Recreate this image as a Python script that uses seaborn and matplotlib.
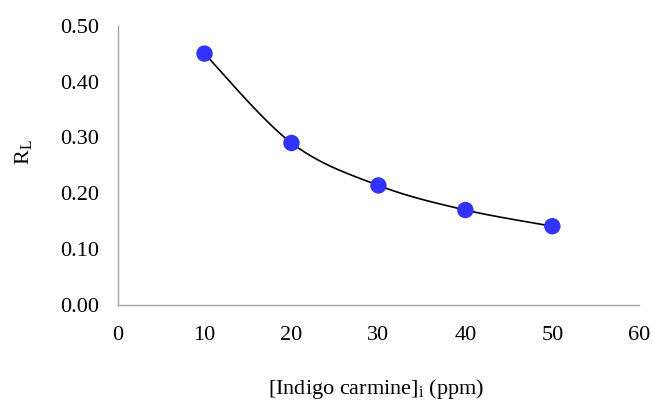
import numpy as np
import pandas as pd
import matplotlib
matplotlib.use("Agg")
import matplotlib.pyplot as plt
import seaborn as sns

# Separation factor R_L at each initial dye concentration
concentration = [10, 20, 30, 40, 50]
r_l = [0.450, 0.290, 0.214, 0.170, 0.141]

x_ticks = [0, 10, 20, 30, 40, 50, 60]
y_ticks = [0.00, 0.10, 0.20, 0.30, 0.40, 0.50]

sns.set_theme(style="white")
plt.rcParams["font.family"] = ["Liberation Serif", "DejaVu Serif"]
plt.rcParams["mathtext.fontset"] = "custom"
plt.rcParams["mathtext.rm"] = "Liberation Serif"
plt.rcParams["mathtext.it"] = "Liberation Serif"

W, H = 653, 401
fig = plt.figure(figsize=(W / 100, H / 100), dpi=100)
ax = fig.add_axes([0.180, 0.2394, 0.799, 0.6966])

xlim = (0, 60)
ylim = (0, 0.5)


def smooth_curve(xs, ys, n=40):
    """Cubic Bezier smoothing through the points (spreadsheet style)."""
    # work in display-like units so the smoothing is aspect aware
    sx = 521.6 / (xlim[1] - xlim[0])
    sy = 279.3 / (ylim[1] - ylim[0])
    P = np.column_stack([np.asarray(xs) * sx, np.asarray(ys) * sy])
    out = []
    m = len(P)
    for i in range(m - 1):
        p0 = P[i - 1] if i > 0 else P[i]
        p1, p2 = P[i], P[i + 1]
        p3 = P[i + 2] if i + 2 < m else P[i + 1]
        c1 = p1 + (p2 - p0) / 6.0
        c2 = p2 - (p3 - p1) / 6.0
        t = np.linspace(0, 1, n)[:, None]
        seg = ((1 - t) ** 3) * p1 + 3 * ((1 - t) ** 2) * t * c1 + 3 * (1 - t) * t ** 2 * c2 + t ** 3 * p2
        out.append(seg if i == 0 else seg[1:])
    C = np.vstack(out)
    return C[:, 0] / sx, C[:, 1] / sy


cx, cy = smooth_curve(concentration, r_l)
curve = pd.DataFrame({"x": cx, "y": cy})
points = pd.DataFrame({"x": concentration, "y": r_l})

sns.lineplot(data=curve, x="x", y="y", ax=ax, color="black", linewidth=1.2,
             sort=False, estimator=None, zorder=2)
sns.scatterplot(data=points, x="x", y="y", ax=ax, color="#3333ff", s=140,
                edgecolor="none", zorder=3)

ax.set_xlim(*xlim)
ax.set_ylim(*ylim)
ax.set_xticks(x_ticks)
ax.set_yticks(y_ticks)
ax.set_xticklabels([str(v) for v in x_ticks])
ax.set_yticklabels([f"{v:.2f}" for v in y_ticks])

for side in ["top", "right"]:
    ax.spines[side].set_visible(False)
for side in ["left", "bottom"]:
    ax.spines[side].set_color("#a6a6a6")
    ax.spines[side].set_linewidth(1.0)

ax.tick_params(axis="both", which="major", direction="out", length=4.5, width=1.0,
               color="#a6a6a6", labelsize=16, labelcolor="black")
ax.tick_params(axis="x", pad=10.5)
ax.tick_params(axis="y", pad=9)
ax.set_xlabel("")
ax.set_ylabel("")
ax.grid(False)

fig.text(376 / W, 1 - 394 / H, "[Indigo carmine]$_\\mathregular{i}$ (ppm)", ha="center", va="baseline",
         fontsize=16, color="black")
fig.text(24 / W, 1 - 152 / H, "R$_\\mathregular{L}$", ha="center", va="center",
         rotation=90, fontsize=16, color="black")

fig.savefig("out.png", dpi=100, facecolor="white")
